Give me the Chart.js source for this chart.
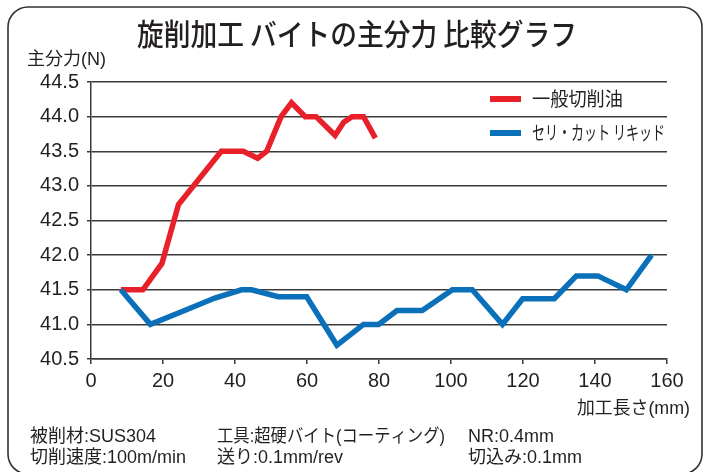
<!DOCTYPE html>
<html>
<head>
<meta charset="utf-8">
<script src="https://cdn.jsdelivr.net/npm/chart.js@4/dist/chart.umd.min.js"></script>
<style>
  html, body { margin: 0; padding: 0; background: #fff; }
  #wrap { position: relative; width: 708px; height: 472px; }
</style>
</head>
<body>
<div id="wrap"><canvas id="c" width="708" height="472"></canvas></div>
<script>
// ---- data ----
const chartTitle = '旋削加工 バイトの主分力 比較グラフ';
const yAxisTitle = '主分力(N)';
const xAxisTitle = '加工長さ(mm)';
const seriesNames = ['一般切削油', 'セリ・カット リキッド'];

const lengthGeneral = [8.3, 14.4, 19.7, 24.3, 36.2, 42.3, 46.3, 48.8, 52.8, 55.7, 59.5, 62.5, 67.8, 70.2, 72.5, 75.7, 79.0];
const forceGeneral  = [41.5, 41.5, 41.88, 42.73, 43.5, 43.5, 43.4, 43.5, 44.0, 44.2, 44.0, 44.0, 43.73, 43.92, 44.0, 44.0, 43.69];

const lengthSeri = [8.3, 16.5, 26.0, 34.4, 41.8, 44.6, 52.0, 59.9, 68.3, 75.7, 79.9, 85.0, 92.0, 100.4, 105.9, 114.3, 119.9, 128.7, 134.8, 140.8, 148.7, 155.7];
const forceSeri  = [41.5, 41.0, 41.2, 41.38, 41.5, 41.5, 41.4, 41.4, 40.7, 41.0, 41.0, 41.2, 41.2, 41.5, 41.5, 41.0, 41.37, 41.37, 41.7, 41.7, 41.5, 42.0];

const xTicks = [0, 20, 40, 60, 80, 100, 120, 140, 160];
const yTicks = [40.5, 41.0, 41.5, 42.0, 42.5, 43.0, 43.5, 44.0, 44.5];

const notesRow1 = ['被削材:SUS304', '工具:超硬バイト(コーティング)', 'NR:0.4mm'];
const notesRow2 = ['切削速度:100m/min', '送り:0.1mm/rev', '切込み:0.1mm'];

// ---- styling ----
const RED = '#E8202A';
const BLUE = '#0A70B9';
const INK = '#231F20';
const GRID = '#3a3a3a';
const LATIN_JP = "'Liberation Sans', 'Noto Sans CJK JP', sans-serif";
const JP = "'Noto Sans CJK JP', sans-serif";

function toPoints(xs, ys) { return xs.map((x, i) => ({ x: x, y: ys[i] })); }

const decorPlugin = {
  id: 'decor',
  beforeDraw(chart) {
    const ctx = chart.ctx;
    ctx.save();
    ctx.fillStyle = '#fff';
    ctx.fillRect(0, 0, chart.width, chart.height);
    // rounded frame
    const x = 8, y = 7, w = 694, h = 467, r = 20;
    ctx.beginPath();
    ctx.moveTo(x + r, y);
    ctx.lineTo(x + w - r, y);
    ctx.arcTo(x + w, y, x + w, y + r, r);
    ctx.lineTo(x + w, y + h - r);
    ctx.arcTo(x + w, y + h, x + w - r, y + h, r);
    ctx.lineTo(x + r, y + h);
    ctx.arcTo(x, y + h, x, y + h - r, r);
    ctx.lineTo(x, y + r);
    ctx.arcTo(x, y, x + r, y, r);
    ctx.closePath();
    ctx.strokeStyle = '#333';
    ctx.lineWidth = 1.6;
    ctx.stroke();
    ctx.restore();
  },
  afterDraw(chart) {
    const ctx = chart.ctx;
    ctx.save();
    ctx.fillStyle = INK;
    ctx.textBaseline = 'middle';
    function txt(s, x, y, font, align, maxW) {
      ctx.font = font;
      ctx.textAlign = align;
      const w = ctx.measureText(s).width;
      if (maxW && w > maxW) ctx.fillText(s, x, y, maxW); else ctx.fillText(s, x, y);
    }
    // title
    txt(chartTitle, 357, 34, "500 30px " + JP, 'center', 440);
    // axis titles
    txt(yAxisTitle, 27, 60, "18px " + LATIN_JP, 'left', 81);
    txt(xAxisTitle, 690, 409, "18px " + LATIN_JP, 'right', 113);
    // legend
    const legendY = [99, 133];
    chart.data.datasets.forEach((ds, i) => {
      const idx = seriesNames.indexOf(ds.label);
      const ly = legendY[idx];
      ctx.beginPath();
      ctx.moveTo(490, ly);
      ctx.lineTo(521, ly);
      ctx.strokeStyle = ds.borderColor;
      ctx.lineWidth = 6;
      ctx.stroke();
      txt(ds.label, 532, ly, "19px " + JP, 'left', idx === 0 ? 91 : 133);
    });
    // notes
    const colX = [30, 217, 468];
    const w1 = [137, 228, 92];
    const w2 = [170, 128, 118];
    notesRow1.forEach((s, i) => txt(s, colX[i], 437, "18px " + LATIN_JP, 'left', w1[i]));
    notesRow2.forEach((s, i) => txt(s, colX[i], 458, "18px " + LATIN_JP, 'left', w2[i]));
    ctx.restore();
  }
};

new Chart(document.getElementById('c'), {
  type: 'line',
  data: {
    datasets: [
      {
        label: seriesNames[0],
        data: toPoints(lengthGeneral, forceGeneral),
        borderColor: RED,
        backgroundColor: RED,
        borderWidth: 5.5,
        pointRadius: 0,
        tension: 0,
        fill: false,
        order: 2
      },
      {
        label: seriesNames[1],
        data: toPoints(lengthSeri, forceSeri),
        borderColor: BLUE,
        backgroundColor: BLUE,
        borderWidth: 5.5,
        pointRadius: 0,
        tension: 0,
        fill: false,
        order: 1
      }
    ]
  },
  options: {
    responsive: false,
    animation: false,
    devicePixelRatio: 1,
    layout: { padding: { top: 82, right: 41, bottom: 0, left: 0 } },
    plugins: {
      legend: { display: false },
      title: { display: false },
      tooltip: { enabled: false }
    },
    scales: {
      x: {
        type: 'linear',
        min: 0,
        max: 160,
        afterBuildTicks: (s) => { s.ticks = xTicks.map(v => ({ value: v })); },
        afterFit: (s) => { s.height = 113; },
        grid: { drawOnChartArea: false, drawTicks: true, tickLength: 5, color: GRID, lineWidth: 1.5 },
        border: { display: true, color: GRID, width: 1.5 },
        ticks: { padding: 5, color: INK, font: { family: "'Liberation Sans'", size: 20 }, maxRotation: 0 }
      },
      y: {
        type: 'linear',
        min: 40.5,
        max: 44.5,
        afterBuildTicks: (s) => { s.ticks = yTicks.map(v => ({ value: v })); },
        afterFit: (s) => { s.width = 91; },
        grid: { drawOnChartArea: true, drawTicks: true, tickLength: 4, color: GRID, lineWidth: 1.5 },
        border: { display: true, color: GRID, width: 1.5 },
        ticks: { padding: 8, color: INK, font: { family: "'Liberation Sans'", size: 20 }, callback: (v) => Number(v).toFixed(1) }
      }
    }
  },
  plugins: [decorPlugin]
});
</script>
</body>
</html>
